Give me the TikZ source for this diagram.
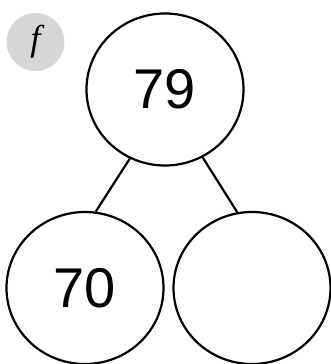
\documentclass[tikz,border=0pt]{standalone}
\usepackage{fontspec}
\setmainfont{Liberation Sans}
\newfontfamily\tagfont{Liberation Serif}
\usetikzlibrary{shapes.geometric}
\tikzset{
	bubble/.style={draw, line width=2.2pt, ellipse, minimum width=157pt, minimum height=152pt, inner sep=0pt, font=\fontsize{56}{56}\selectfont},
	branch/.style={line width=2.2pt}
}
\begin{document}
	\begin{tikzpicture}[x=1pt, y=-1pt]
		\useasboundingbox (0,0) rectangle (331,364);
		\node[circle, fill=black!16, minimum size=58pt, inner sep=0pt] (tag) at (35.5,42) {\tagfont\itshape\fontsize{36}{36}\selectfont f};
		\node[bubble] (whole) at (165,89.5) {79};
		\node[bubble] (tens) at (85,288) {70};
		\node[bubble] (ones) at (252,288) {};
		\draw[branch] (whole.-117) -- (tens.82);
		\draw[branch] (whole.-61) -- (ones.101);
	\end{tikzpicture}
\end{document}
